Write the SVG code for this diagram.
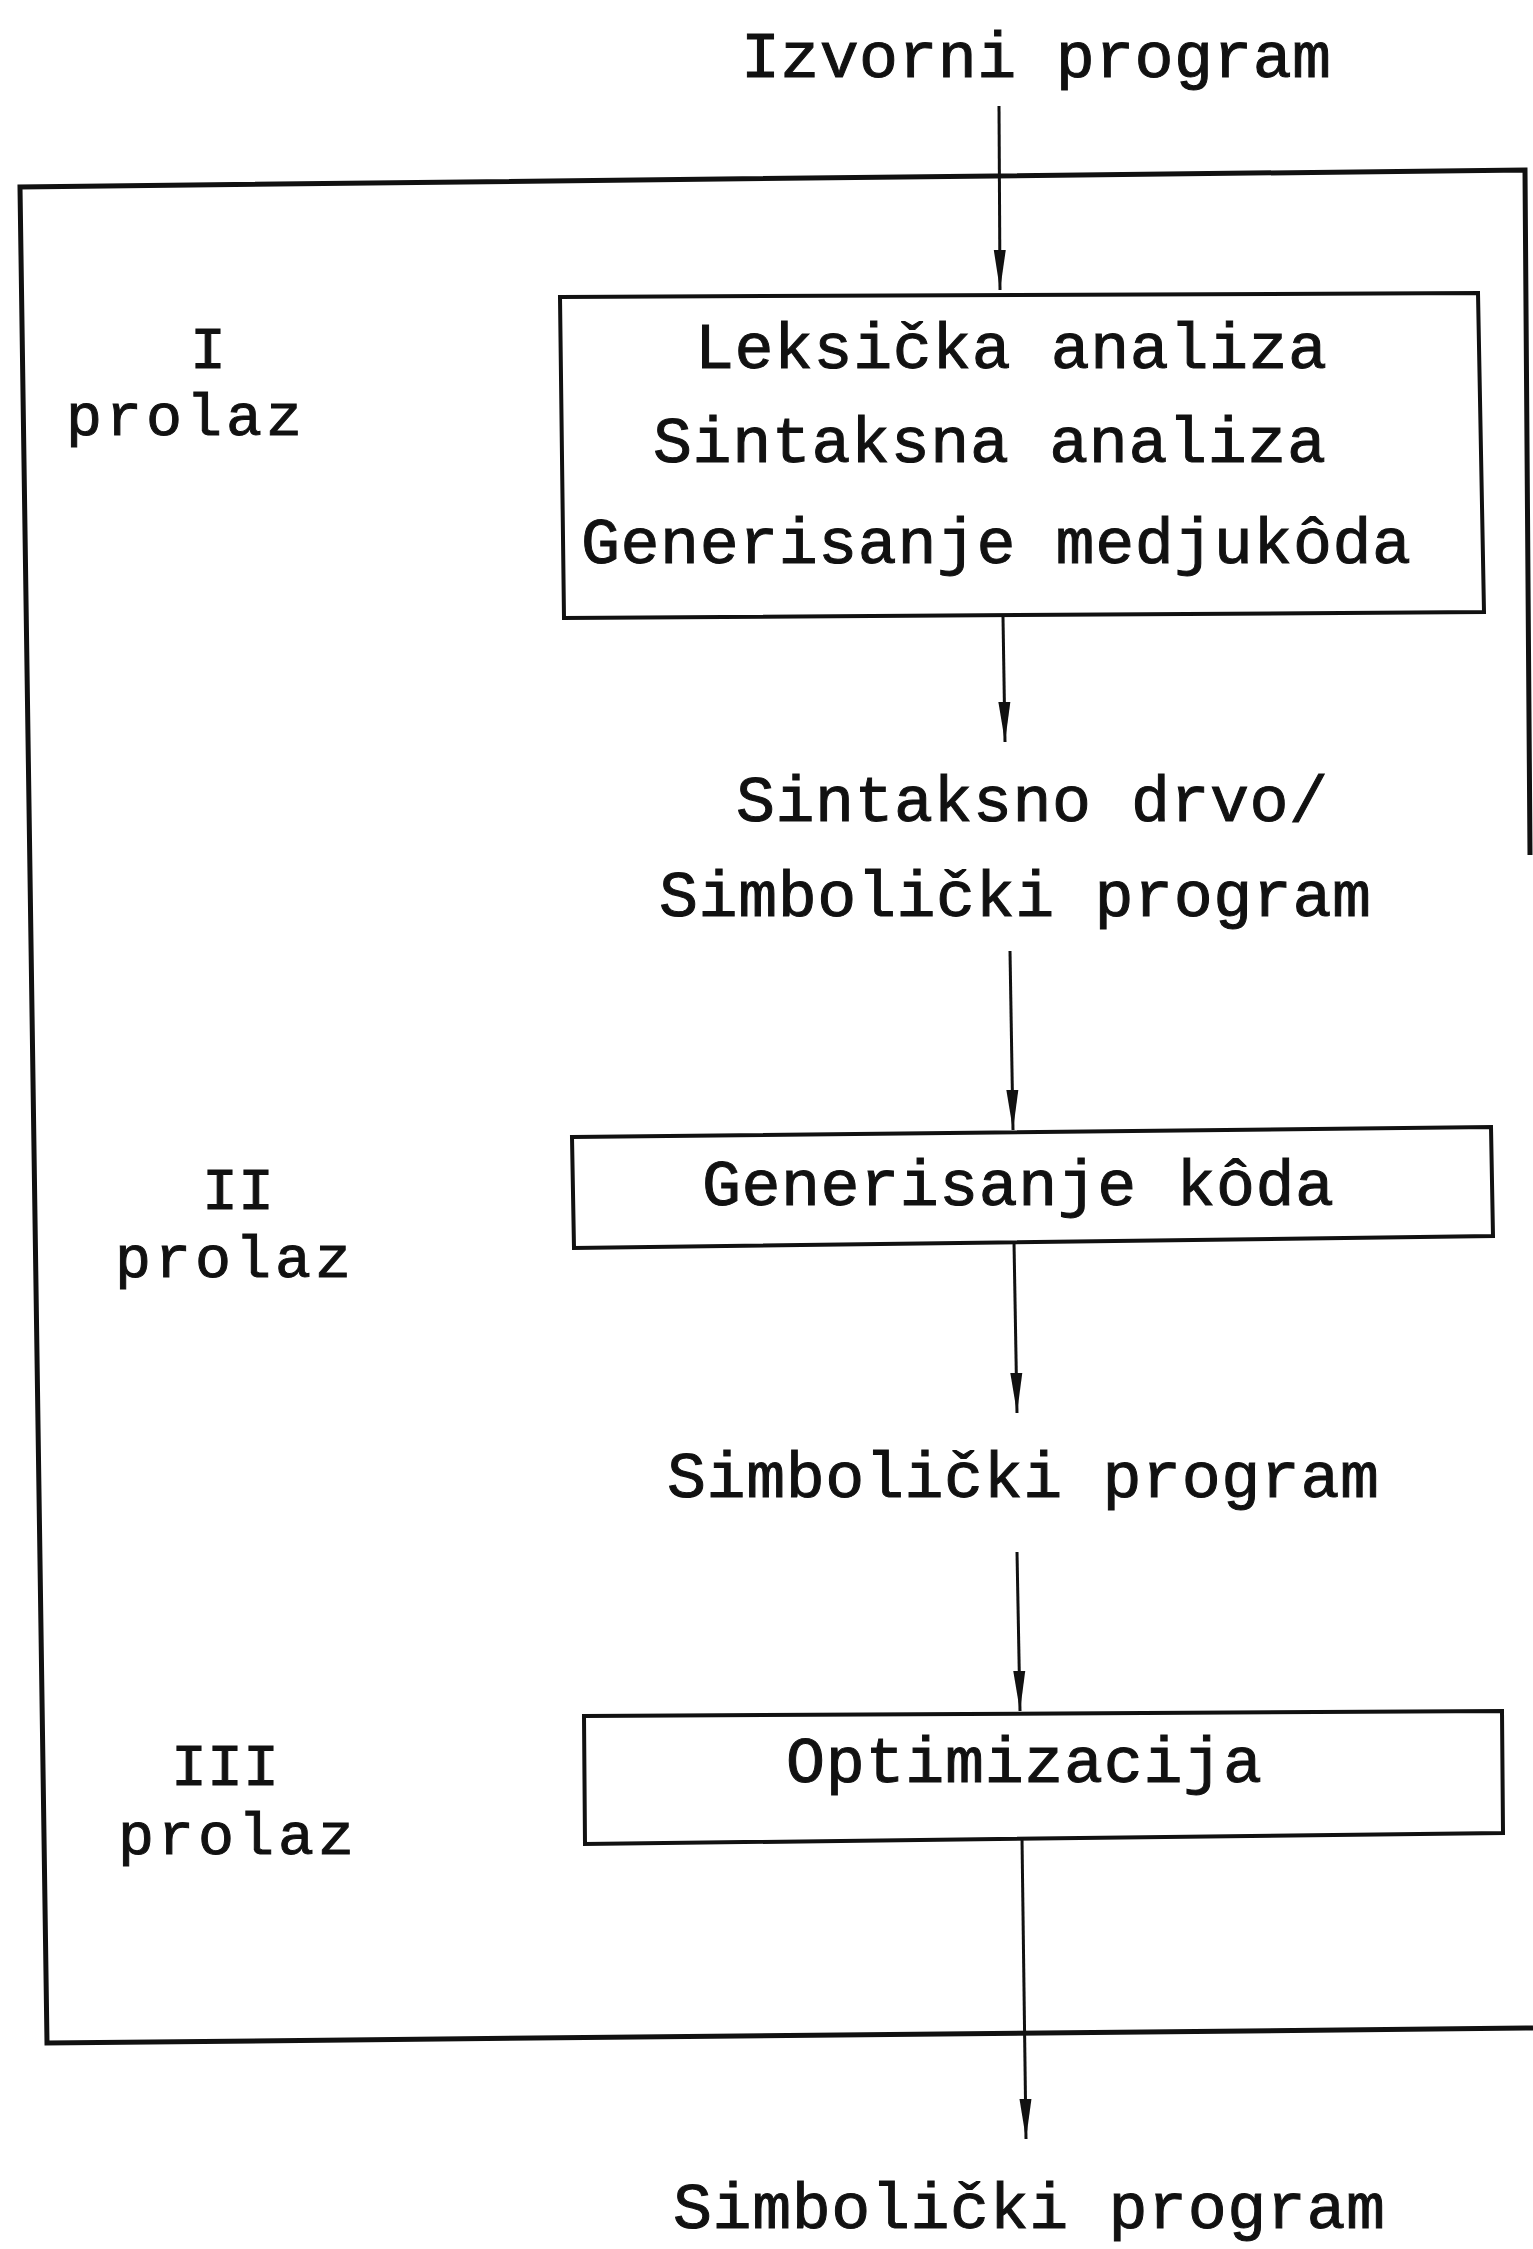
<svg xmlns="http://www.w3.org/2000/svg" width="1533" height="2249" viewBox="0 0 1533 2249">
  <style>
    .t { font-family: "Liberation Mono", "Courier New", monospace; font-size: 65px; fill: #111; stroke: #111; stroke-width: 1; }
    .lbl { font-size: 60px; }
    .c { text-anchor: middle; }
    .box { fill: none; stroke: #111; stroke-width: 4; stroke-linejoin: miter; }
    .frame { fill: none; stroke: #111; stroke-width: 5; }
    .edge { fill: none; stroke: #111; stroke-width: 3; marker-end: url(#head); }
  </style>
  <defs>
    <marker id="head" markerUnits="userSpaceOnUse" markerWidth="40" markerHeight="14" refX="40" refY="7" orient="auto">
      <path d="M0,1 L40,7 L0,13 Z" fill="#111"/>
    </marker>
  </defs>
  <rect width="1533" height="2249" fill="#fff"/>

  <!-- compiler frame -->
  <path id="frame" class="frame" d="M1530,855 L1525,170 L20,187 L47,2043 L1533,2028"/>

  <!-- pass labels -->
  <g id="pass1">
    <text class="t lbl c" x="208" y="368">I</text>
    <text class="t lbl" x="66" y="435" textLength="236" lengthAdjust="spacing">prolaz</text>
  </g>
  <g id="pass2">
    <text class="t lbl c" x="238" y="1209">II</text>
    <text class="t lbl" x="115" y="1277" textLength="236" lengthAdjust="spacing">prolaz</text>
  </g>
  <g id="pass3">
    <text class="t lbl c" x="225" y="1785">III</text>
    <text class="t lbl" x="118" y="1854" textLength="236" lengthAdjust="spacing">prolaz</text>
  </g>

  <!-- data between phases -->
  <g id="source">
    <text class="t" x="741" y="77" textLength="590" lengthAdjust="spacing">Izvorni program</text>
  </g>
  <g id="tree">
    <text class="t" x="736" y="821" textLength="592" lengthAdjust="spacing">Sintaksno drvo/</text>
    <text class="t" x="659" y="916" textLength="712" lengthAdjust="spacing">Simbolički program</text>
  </g>
  <g id="symbolic">
    <text class="t" x="667" y="1497" textLength="712" lengthAdjust="spacing">Simbolički program</text>
  </g>
  <g id="output">
    <text class="t" x="673" y="2228" textLength="712" lengthAdjust="spacing">Simbolički program</text>
  </g>

  <!-- phases -->
  <g id="frontend">
    <polygon class="box" points="560,297 1478,293 1484,612 564,618"/>
    <text class="t" x="695" y="368" textLength="632" lengthAdjust="spacing">Leksička analiza</text>
    <text class="t" x="653" y="462" textLength="673" lengthAdjust="spacing">Sintaksna analiza</text>
    <text class="t" x="581" y="563" textLength="830" lengthAdjust="spacing">Generisanje medjukôda</text>
  </g>
  <g id="codegen">
    <polygon class="box" points="572,1137 1491,1127 1493,1236 574,1248"/>
    <text class="t" x="702" y="1205" textLength="632" lengthAdjust="spacing">Generisanje kôda</text>
  </g>
  <g id="optimizer">
    <polygon class="box" points="584,1716 1502,1711 1503,1833 585,1844"/>
    <text class="t" x="786" y="1782" textLength="476" lengthAdjust="spacing">Optimizacija</text>
  </g>

  <!-- connectors -->
  <g id="connectors">
    <path class="edge" d="M999,106 L1000,290"/>
    <path class="edge" d="M1003,617 L1005,742"/>
    <path class="edge" d="M1010,951 L1013,1130"/>
    <path class="edge" d="M1014,1242 L1017,1413"/>
    <path class="edge" d="M1017,1552 L1020,1711"/>
    <path class="edge" d="M1022,1838 L1026,2139"/>
  </g>
</svg>
